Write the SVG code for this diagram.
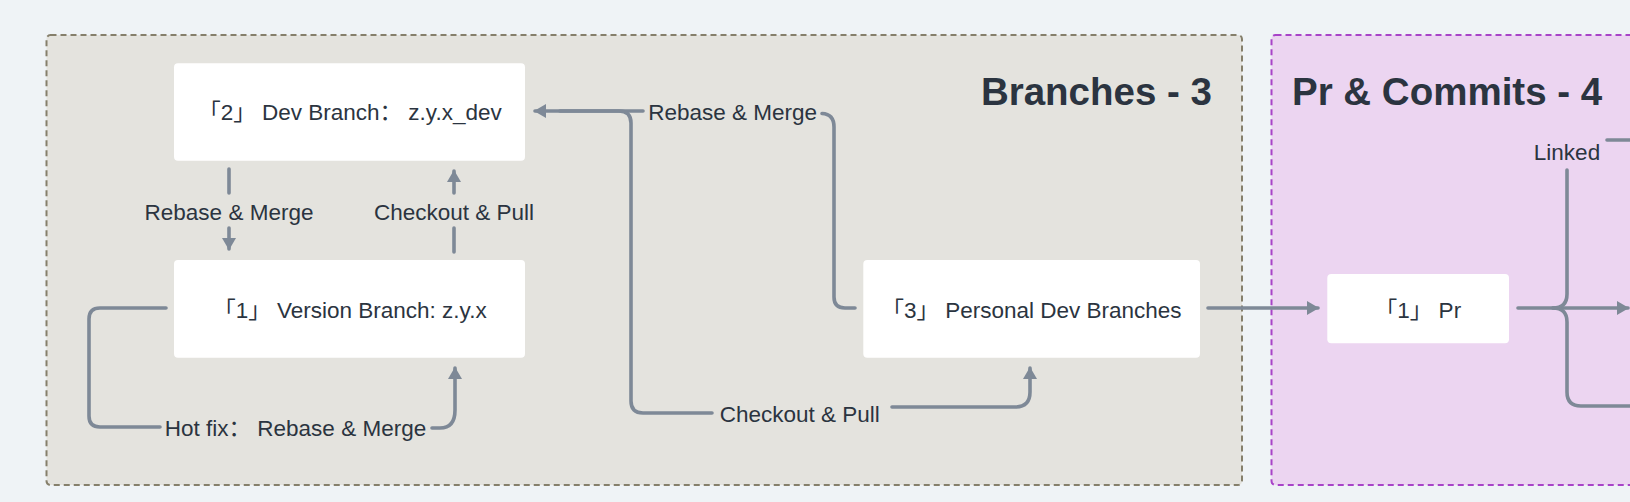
<svg xmlns="http://www.w3.org/2000/svg" width="1630" height="502" viewBox="0 0 1630 502">
<defs>
<style>
.lbl{font-family:"Liberation Sans","Noto Sans CJK SC",sans-serif;font-size:22.5px;fill:#2b3440;text-anchor:middle}
.title{font-family:"Liberation Sans","Noto Sans CJK SC",sans-serif;font-size:38.5px;font-weight:bold;fill:#2b3440}
.node rect{fill:#ffffff}
.conn path{fill:none;stroke:#7e8997;stroke-width:3.6;stroke-linecap:round;stroke-linejoin:round}
</style>
<marker id="arr" viewBox="0 0 12 14" refX="11" refY="7" markerWidth="12" markerHeight="14" markerUnits="userSpaceOnUse" orient="auto">
<path d="M0,0 L12,7 L0,14 Z" fill="#7e8997"/>
</marker>
</defs>
<rect x="0" y="0" width="1630" height="502" fill="#eff3f6"/>
<g id="group-branches">
<rect x="46.5" y="35" width="1195.5" height="450" rx="4" fill="#e4e3de" stroke="#857f6b" stroke-width="2" stroke-dasharray="6 4"/>
<text class="title" x="1212" y="105" text-anchor="end">Branches - 3</text>
</g>
<g id="group-pr">
<rect x="1271.5" y="35" width="420" height="450" rx="4" fill="#ecd5f1" stroke="#a843c8" stroke-width="2" stroke-dasharray="6 4"/>
<text class="title" x="1292" y="105">Pr &amp; Commits - 4</text>
</g>
<g class="conn" id="connectors">
<path d="M229 169 V193"/>
<path d="M229 228 V249" marker-end="url(#arr)"/>
<text class="lbl" x="229" y="220">Rebase &amp; Merge</text>
<path d="M454 252 V228"/>
<path d="M454 193 V171" marker-end="url(#arr)"/>
<text class="lbl" x="454" y="220">Checkout &amp; Pull</text>
<path d="M166 308 H100 Q89 308 89 319 V416 Q89 427 100 427 H160"/>
<path d="M432 428 H440 Q455 428 455 410 V368" marker-end="url(#arr)"/>
<text class="lbl" x="295.5" y="436">Hot fix： Rebase &amp; Merge</text>
<path d="M855 308 H845 Q834 308 834 297 V127 Q834 114 822 113.5"/>
<path d="M643 111 H535" marker-end="url(#arr)"/>
<text class="lbl" x="732.7" y="119.5">Rebase &amp; Merge</text>
<path d="M560 111 H619 Q631 111 631 123 V401 Q631 413 643 413 H712"/>
<path d="M892 407 H1015 Q1030 407 1030 392 V368" marker-end="url(#arr)"/>
<text class="lbl" x="799.7" y="421.7">Checkout &amp; Pull</text>
<path d="M1208 308 H1318" marker-end="url(#arr)"/>
<path d="M1518 308 H1628" marker-end="url(#arr)"/>
<path d="M1553 308 Q1567 308 1567 294 V170"/>
<path d="M1607 140 H1635"/>
<text class="lbl" x="1567" y="160">Linked</text>
<path d="M1553 308 Q1567 308 1567 322 V392 Q1567 406 1581 406 H1635"/>
</g>
<g class="node" id="node-dev">
<rect x="174" y="63.3" width="351" height="97.4" rx="4"/>
<text class="lbl" x="350" y="120">「2」 Dev Branch： z.y.x_dev</text>
</g>
<g class="node" id="node-version">
<rect x="174" y="260" width="351" height="97.7" rx="4"/>
<text class="lbl" x="350" y="318">「1」 Version Branch: z.y.x</text>
</g>
<g class="node" id="node-personal">
<rect x="863.3" y="260" width="336.7" height="97.7" rx="4"/>
<text class="lbl" x="1031.5" y="318">「3」 Personal Dev Branches</text>
</g>
<g class="node" id="node-pr">
<rect x="1327.3" y="274" width="181.7" height="69.3" rx="4"/>
<text class="lbl" x="1418" y="318">「1」 Pr</text>
</g>
</svg>
